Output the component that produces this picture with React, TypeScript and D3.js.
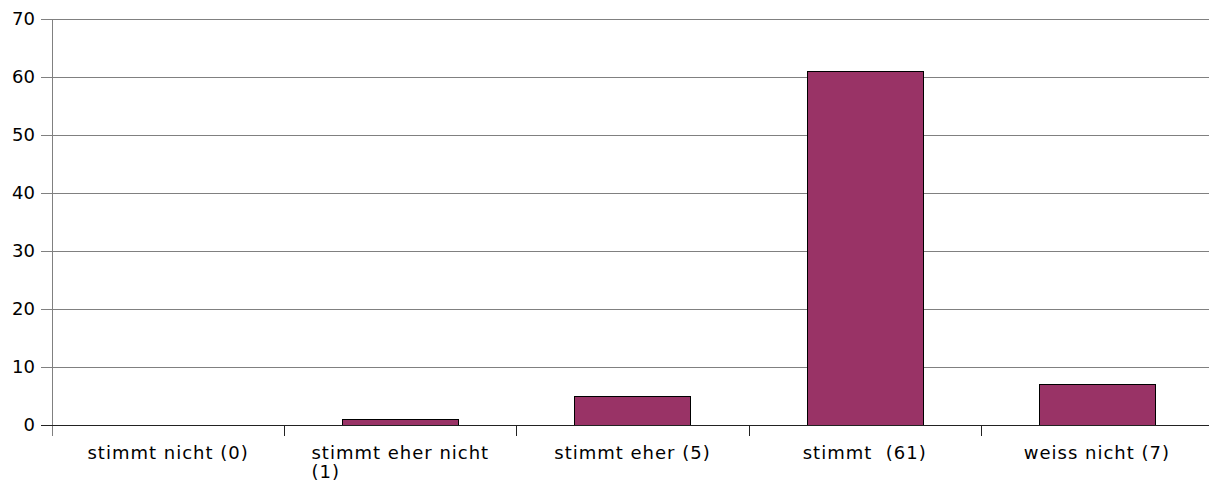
import React, { useEffect, useRef } from "react";
import * as d3 from "d3";

const categories = ["stimmt nicht (0)", "stimmt eher nicht (1)", "stimmt eher (5)", "stimmt  (61)", "weiss nicht (7)"];
const labelLines = [["stimmt nicht (0)"], ["stimmt eher nicht", "(1)"], ["stimmt eher (5)"], ["stimmt  (61)"], ["weiss nicht (7)"]];
const values = [0, 1, 5, 61, 7];
const yTicks = [0, 10, 20, 30, 40, 50, 60, 70];

export default function App() {
  const ref = useRef<SVGSVGElement>(null);

  useEffect(() => {
    const width = 1209,
      height = 484,
      margin = { top: 19, right: -4, bottom: 59, left: 52 };

    const svg = d3.select(ref.current);
    svg.selectAll("*").remove();

    const x = d3
      .scaleBand()
      .domain(categories)
      .range([margin.left, width - margin.right]);

    const y = d3
      .scaleLinear()
      .domain([0, 70])
      .range([height - margin.bottom, margin.top]);

    // grid lines
    svg
      .append("g")
      .selectAll("line")
      .data(yTicks.filter((t) => t > 0))
      .join("line")
      .attr("x1", margin.left - 11)
      .attr("x2", width)
      .attr("y1", (d) => Math.round(y(d)) + 0.5)
      .attr("y2", (d) => Math.round(y(d)) + 0.5)
      .attr("stroke", "#808080");

    // y labels
    svg
      .append("g")
      .selectAll("text")
      .data(yTicks)
      .join("text")
      .attr("x", margin.left - 17)
      .attr("y", (d) => y(d))
      .attr("dy", "0.36em")
      .attr("text-anchor", "end")
      .style("font-family", "DejaVu Sans")
      .style("font-size", "18px")
      .text((d) => d);

    // y axis line
    svg
      .append("line")
      .attr("x1", margin.left + 0.5)
      .attr("x2", margin.left + 0.5)
      .attr("y1", y(70))
      .attr("y2", y(0) + 11)
      .attr("stroke", "#808080");

    // bars
    const bw = x.bandwidth() / 2;
    svg
      .append("g")
      .selectAll("rect")
      .data(values)
      .join("rect")
      .attr("x", (d, i) => Math.round(x(categories[i])! + bw / 2) + 0.5)
      .attr("y", (d) => Math.round(y(d)) + 0.5)
      .attr("width", Math.round(bw))
      .attr("height", (d) => Math.round(y(0)) - Math.round(y(d)))
      .attr("fill", "#993366")
      .attr("stroke", "#000");

    // x axis line
    svg
      .append("line")
      .attr("x1", margin.left - 11)
      .attr("x2", width)
      .attr("y1", Math.round(y(0)) + 0.5)
      .attr("y2", Math.round(y(0)) + 0.5)
      .attr("stroke", "#222");

    // category ticks
    svg
      .append("g")
      .selectAll("line")
      .data(categories.slice(1))
      .join("line")
      .attr("x1", (d) => Math.round(x(d)!) + 0.5)
      .attr("x2", (d) => Math.round(x(d)!) + 0.5)
      .attr("y1", Math.round(y(0)))
      .attr("y2", Math.round(y(0)) + 11)
      .attr("stroke", "#222");

    // category labels
    const lbl = svg
      .append("g")
      .selectAll("g")
      .data(categories)
      .join("g")
      .attr("transform", (d) => `translate(${x(d)! + x.bandwidth() / 2},${y(0) + 34})`);

    lbl.each(function (d, i) {
      const g = d3.select(this);
      const lines = labelLines[i];
      const t = g
        .append("text")
        .style("font-family", "DejaVu Sans")
        .style("font-size", "18px")
        .style("letter-spacing", "1px")
        .style("white-space", "pre");
      lines.forEach((line, j) => {
        t.append("tspan").attr("x", 0).attr("dy", j === 0 ? 0 : 19).text(line);
      });
      const w = (t.node() as SVGTextElement).getBBox().width;
      if (lines.length > 1) {
        t.attr("text-anchor", "start").selectAll("tspan").attr("x", -w / 2);
      } else {
        t.attr("text-anchor", "middle");
      }
    });
  }, []);

  return (
    <svg
      ref={ref}
      width={1209}
      height={484}
      style={{ display: "block", position: "absolute", left: 0, top: 0 }}
    />
  );
}
